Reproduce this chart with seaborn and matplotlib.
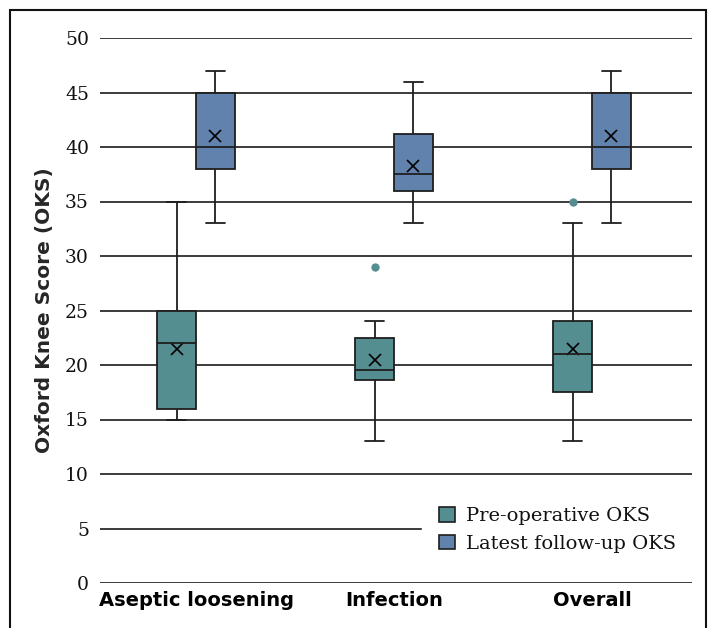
import numpy as np
import pandas as pd
import matplotlib
matplotlib.use("Agg")
import matplotlib.pyplot as plt
from matplotlib.patches import Patch, Rectangle
import seaborn as sns

categories = ["Aseptic loosening", "Infection", "Overall"]
groups = ["Pre-operative OKS", "Latest follow-up OKS"]
# five-number summaries: whisker low, Q1, median, Q3, whisker high
pre_low = [15, 13, 13]
pre_q1 = [16, 18.6, 17.5]
pre_med = [22, 19.5, 21]
pre_q3 = [25, 22.5, 24]
pre_high = [35, 24, 33]
pre_mean = [21.5, 20.5, 21.5]
post_low = [33, 33, 33]
post_q1 = [38, 36, 38]
post_med = [40, 37.5, 40]
post_q3 = [45, 41.2, 45]
post_high = [47, 46, 47]
post_mean = [41, 38.3, 41]
outlier_cat = ["Infection", "Overall"]
outlier_val = [29, 35]
yticks = [0, 5, 10, 15, 20, 25, 30, 35, 40, 45, 50]

rows = []
for i, c in enumerate(categories):
    for v in (pre_low[i], pre_q1[i], pre_med[i], pre_q3[i], pre_high[i]):
        rows.append((c, groups[0], v))
    for v in (post_low[i], post_q1[i], post_med[i], post_q3[i], post_high[i]):
        rows.append((c, groups[1], v))
df = pd.DataFrame(rows, columns=["cat", "grp", "val"])
means = pd.DataFrame({
    "cat": categories * 2,
    "grp": [groups[0]] * 3 + [groups[1]] * 3,
    "val": pre_mean + post_mean,
})
outs = pd.DataFrame({"cat": outlier_cat, "grp": [groups[0]] * 2, "val": outlier_val})

sns.set_theme(style="white")
plt.rcParams["font.family"] = ["DejaVu Serif"]

pre_color = "#558E91"
post_color = "#6082AD"
palette = {groups[0]: pre_color, groups[1]: post_color}
edge = "#1e1e1e"
BOX_W = 0.39

fig = plt.figure(figsize=(7.09, 6.28), dpi=100)
ax = fig.add_axes([100 / 709, 1 - 583 / 628, 592 / 709, 545 / 628])

for y in yticks:
    ax.axhline(y, color="#1a1a1a", lw=1.2, zorder=0)

sns.boxplot(data=df, x="cat", y="val", hue="grp", order=categories, hue_order=groups,
            palette=palette, whis=(0, 100), width=BOX_W, gap=0, dodge=True,
            linecolor=edge, linewidth=1.3, saturation=1, legend=False, ax=ax,
            medianprops=dict(color=edge, lw=1.3),
            boxprops=dict(zorder=2), whiskerprops=dict(zorder=2), capprops=dict(zorder=2))

sns.pointplot(data=means, x="cat", y="val", hue="grp", order=categories, hue_order=groups,
              dodge=BOX_W / 2, linestyle="none", markers="x", markersize=8, markeredgewidth=1.2,
              errorbar=None, palette={groups[0]: "black", groups[1]: "black"},
              legend=False, ax=ax)
sns.pointplot(data=outs, x="cat", y="val", hue="grp", order=categories, hue_order=groups,
              dodge=BOX_W / 2, linestyle="none", markers="o", markersize=6, markeredgewidth=0,
              errorbar=None, palette=palette, legend=False, ax=ax)

ax.set_ylim(0, 50)
ax.set_xlim(-0.485, 2.505)
ax.set_yticks(yticks)
ax.set_yticklabels([str(t) for t in yticks], fontsize=13.5, color="#111111")
ax.set_xticks(range(len(categories)))
ax.set_xticklabels(categories, fontsize=14, fontweight="bold", family="DejaVu Sans", color="black")
ax.tick_params(axis="y", length=0, pad=8)
ax.tick_params(axis="x", length=0, pad=6)
for s in ax.spines.values():
    s.set_visible(False)
ax.set_xlabel("")
ax.set_ylabel("Oxford Knee Score (OKS)", fontsize=14.5, fontweight="bold",
              family="DejaVu Sans", labelpad=8)

handles = [Patch(facecolor=pre_color, edgecolor=edge, lw=1.2, label=groups[0]),
           Patch(facecolor=post_color, edgecolor=edge, lw=1.2, label=groups[1])]
leg = ax.legend(handles=handles, loc="upper left", bbox_to_anchor=(0.527, 0.19),
                fontsize=14, frameon=True, facecolor="white", edgecolor="white",
                framealpha=1, handlelength=0.8, handleheight=0.8, handletextpad=0.6,
                labelspacing=0.5, borderpad=0.9, fancybox=False)
leg.set_zorder(10)
for t in leg.get_texts():
    t.set_color("#111111")

fig.patches.append(Rectangle((10 / 709, -0.05), 696 / 709, 1.05 - 10 / 628,
                             transform=fig.transFigure, fill=False,
                             edgecolor="#111111", lw=1.5))

fig.savefig("out.png", dpi=100)
